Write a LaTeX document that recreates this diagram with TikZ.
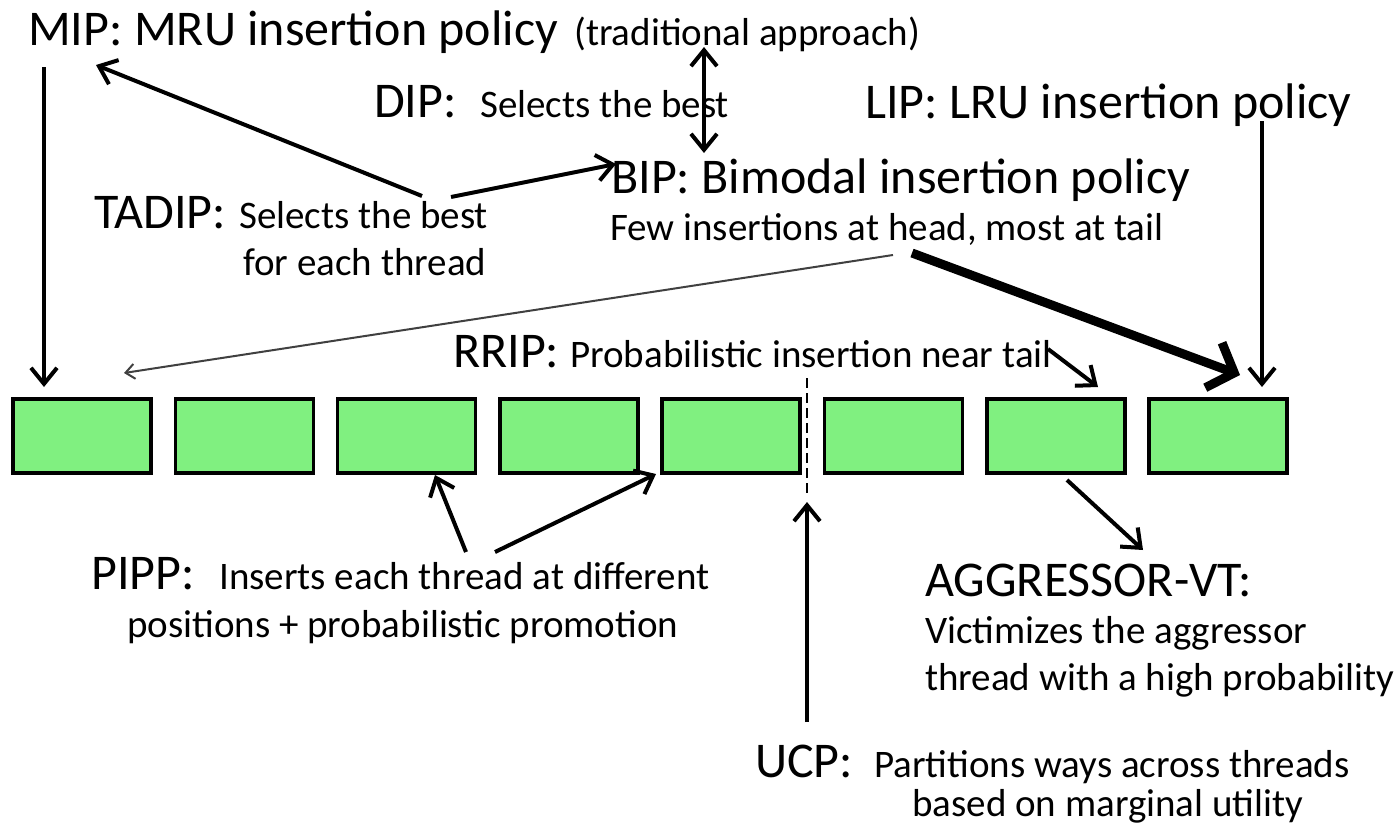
\documentclass[tikz,border=0pt]{standalone}
\usepackage{fontspec}
\setmainfont{Carlito}
\usetikzlibrary{arrows.meta}

\definecolor{waygreen}{RGB}{128,240,128}
\newcommand{\policyfont}{\fontsize{50}{54}\selectfont}
\newcommand{\descfont}{\fontsize{39}{46}\selectfont}

\begin{document}
\begin{tikzpicture}[
  x=1pt, y=-1pt,
  >={Straight Barb[length=16pt,width=26pt]},
  way/.style={draw=black, line width=3.5pt, fill=waygreen,
              minimum width=138pt, minimum height=74pt, inner sep=0pt},
  policy/.style={anchor=base west, inner sep=0pt, font=\policyfont},
  desc/.style={anchor=base west, inner sep=0pt, font=\descfont},
  link/.style={->, line width=4pt},
]
% Coordinate system: pixels of the slide, y grows downwards
\useasboundingbox (0,0) rectangle (1395,828);

% --- Cache ways (MRU left, LRU right) ---
\foreach \i in {1,...,8}
  \node[way] (way\i) at ({82+162.3*(\i-1)}, 436) {};

% --- Policy labels ---
\node[policy] (mip) at (28,45) {MIP: MRU insertion policy};
\node[desc] (mipnote) at (574,45) {(traditional approach)};

\node[policy] (dip) at (374,117) {DIP:};
\node[desc] (dipdesc) at (480,117) {Selects the best};

\node[policy] (lip) at (865,118) {LIP: LRU insertion policy};

\node[policy] (bip) at (611,193) {BIP: Bimodal insertion policy};
\node[desc] (bipdesc) at (610,240) {Few insertions at head, most at tail};

\node[policy] (tadip) at (94,228) {TADIP:};
\node[desc] (tadipdesc) at (239,228) {Selects the best};
\node[desc] (tadipdesc2) at (243,275) {for each thread};

\node[policy] (rrip) at (453,367) {RRIP:};
\node[desc] (rripdesc) at (570,367) {Probabilistic insertion near tail};

\node[policy] (pipp) at (91,589) {PIPP:};
\node[desc] (pippdesc) at (219,589) {Inserts each thread at different};
\node[desc] (pippdesc2) at (127,637) {positions + probabilistic promotion};

\node[policy] (aggr) at (925,596) {AGGRESSOR-VT:};
\node[desc] (aggrdesc) at (925,643) {Victimizes the aggressor};
\node[desc] (aggrdesc2) at (925,690) {thread with a high probability};

\node[policy] (ucp) at (755,777) {UCP:};
\node[desc] (ucpdesc) at (874,777) {Partitions ways across threads};
\node[desc] (ucpdesc2) at (912,816) {based on marginal utility};

% --- Arrow ends ---
\coordinate (mip-out)   at (44,67);
\coordinate (mip-in)    at (44,387);
\coordinate (tadip-l)   at (422,196);
\coordinate (mip-tip)   at (96,65);
\coordinate (tadip-r)   at (451,197);
\coordinate (bip-tip)   at (616,164);
\coordinate (dip-top)   at (704,47);
\coordinate (dip-bot)   at (704,153);
\coordinate (lip-out)   at (1262,121);
\coordinate (lip-in)    at (1262,387);
\coordinate (bip-l)     at (893,255);
\coordinate (head-in)   at (124,373);
\coordinate (bip-r)     at (912,253);
\coordinate (tail-in)   at (1240,375);
\coordinate (rrip-out)  at (1048,349);
\coordinate (rrip-in)   at (1098,387);
\coordinate (split-top) at (807,378);
\coordinate (split-bot) at (807,494);
\coordinate (ucp-out)   at (807,722);
\coordinate (ucp-in)    at (807,502);
\coordinate (pipp-l)    at (466,552);
\coordinate (pipp-r)    at (495,552);
\coordinate (pipp-in3)  at (435,475);
\coordinate (pipp-in5)  at (656,474);
\coordinate (aggr-out)  at (1067,480);
\coordinate (aggr-in)   at (1143,550);

% --- Arrows ---
\draw[link] (mip-out) -- (mip-in);
\draw[link] (tadip-l) -- (mip-tip);
\draw[link] (tadip-r) -- (bip-tip);
\draw[link, <->] (dip-top) -- (dip-bot);
\draw[link] (lip-out) -- (lip-in);
\draw[->, line width=2pt, black!75, >={Straight Barb[length=9pt,width=15pt]}] (bip-l) -- (head-in);
\draw[->, line width=9pt, >={Straight Barb[length=22pt,width=48pt]}] (bip-r) -- (tail-in);
\draw[link] (rrip-out) -- (rrip-in);
\draw[line width=2.5pt, dash pattern=on 10pt off 5pt] (split-top) -- (split-bot);
\draw[link] (ucp-out) -- (ucp-in);
\draw[link] (pipp-l) -- (pipp-in3);
\draw[link] (pipp-r) -- (pipp-in5);
\draw[link] (aggr-out) -- (aggr-in);

\end{tikzpicture}
\end{document}
